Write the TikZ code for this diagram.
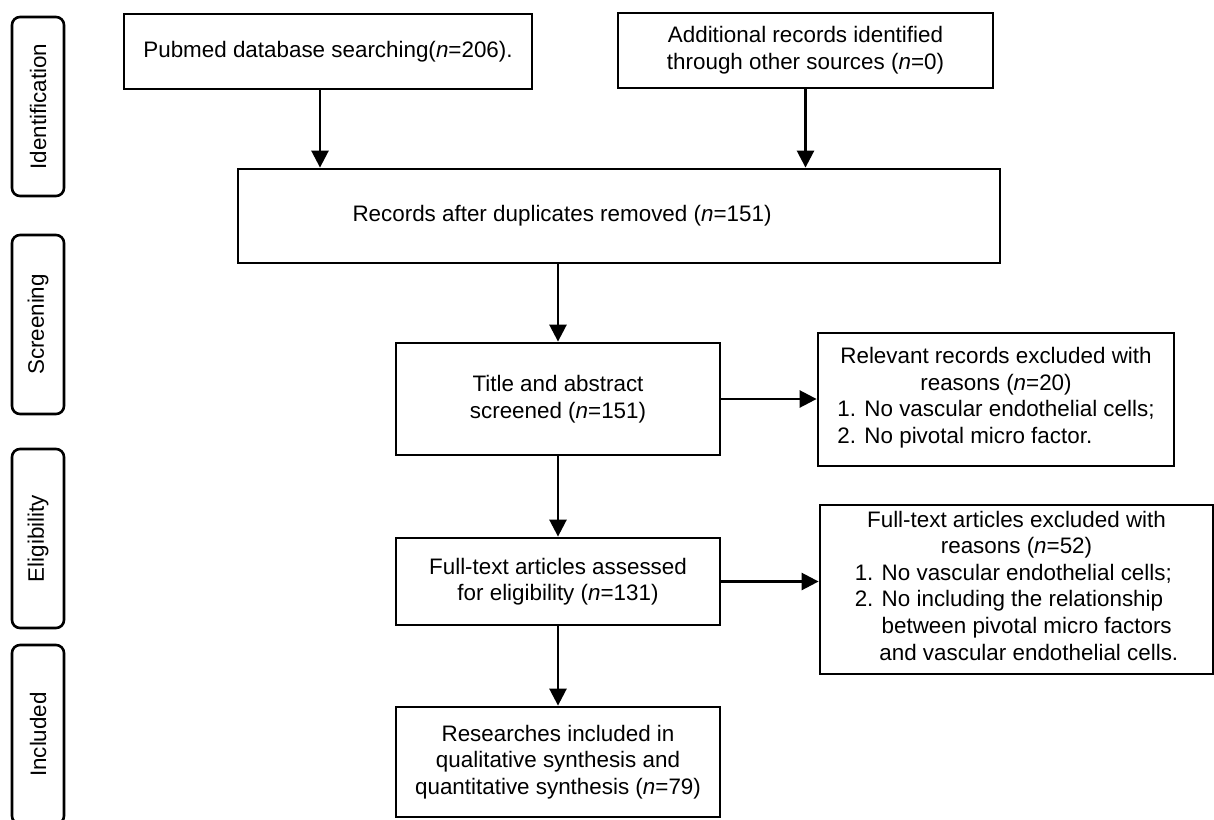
\documentclass[tikz,border=0pt]{standalone}
\usepackage{fontspec}
\setmainfont{Liberation Sans}
\usetikzlibrary{arrows.meta,calc}
\begin{document}
\begin{tikzpicture}[x=0.5pt,y=-0.5pt,
  txt/.style={font=\fontsize{11.2}{13.3}\selectfont},
  box/.style={draw, line width=1.4pt, align=center, inner sep=0pt, txt},
  phase/.style={draw, line width=1.3pt, rounded corners=4pt, inner sep=0pt, rotate=90,
    minimum width=89.5pt, minimum height=26pt, txt},
  arr/.style={line width=1.3pt, -{Triangle[length=8.5pt,width=8.5pt]}}]
\useasboundingbox (0,0) rectangle (1214,819);
\fill[white] (0,0) rectangle (1214,819);

% phase labels
\node[phase] (idph) at (38,106.5) {Identification};
\node[phase] (scph) at (38,324.5) {Screening};
\node[phase] (elph) at (38,538.5) {Eligibility};
\node[phase] (inph) at (38,734.5) {Included};

% boxes
\node[box, minimum width=204pt, minimum height=37.5pt] (pubmed) at (328,51.5)
  {Pubmed database searching(\textit{n}=206).};
\node[box, minimum width=187.5pt, minimum height=37.5pt] (addl) at (805.5,50.5)
  {Additional records identified\\through other sources (\textit{n}=0)};
\node[box, minimum width=381pt, minimum height=47pt] (rec) at (619,216)
  {\hspace*{-57pt}Records after duplicates removed (\textit{n}=151)};
\node[box, minimum width=162pt, minimum height=56pt] (title) at (558,399)
  {Title and abstract\\screened (\textit{n}=151)};
\node[box, minimum width=178pt, minimum height=66.5pt] (relevant) at (996,399.5)
  {Relevant records excluded with\\reasons (\textit{n}=20)\\
   \begin{tabular}[t]{@{}l@{}}1. No vascular endothelial cells;\\2. No pivotal micro factor.\end{tabular}};
\node[box, minimum width=162pt, minimum height=43.5pt] (assess) at (558,581.5)
  {Full-text articles assessed\\for eligibility (\textit{n}=131)};
\node[box, minimum width=196.5pt, minimum height=84.5pt] (excl) at (1016.5,589.5)
  {Full-text articles excluded with\\reasons (\textit{n}=52)\\
   \begin{tabular}[t]{@{}l@{}}1. No vascular endothelial cells;\\2. No including the relationship\\
   \hspace{1.2em}between pivotal micro factors\\\hspace{1.1em}and vascular endothelial cells.\end{tabular}};
\node[box, minimum width=162pt, minimum height=55pt] (research) at (558,762)
  {Researches included in\\qualitative synthesis and\\quantitative synthesis (\textit{n}=79)};

% connectors
\draw[arr] ([xshift=-4pt]pubmed.south) -- ([xshift=-4pt]pubmed.south |- rec.north);
\draw[arr] (addl.south) -- (addl.south |- rec.north);
\draw[arr] (title.north |- rec.south) -- (title.north);
\draw[arr] (title.south) -- (assess.north);
\draw[arr] (assess.south) -- (research.north);
\draw[arr] (title.east) -- (title.east -| relevant.west);
\draw[arr] (assess.east) -- (assess.east -| excl.west);
\end{tikzpicture}
\end{document}
